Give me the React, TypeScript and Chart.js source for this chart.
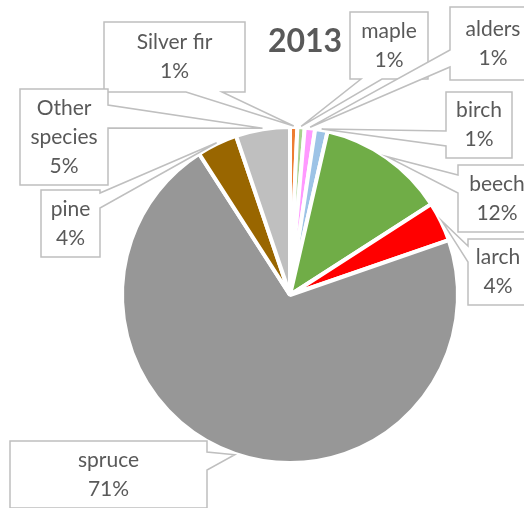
import React, { useEffect, useRef } from "react";
import { Chart, registerables } from "chart.js";

Chart.register(...registerables);

const TITLE = "2013";
const SPECIES = ["Silver fir", "maple", "alders", "birch", "beech", "larch", "spruce", "pine", "Other species"];
const LABEL_LINES = [["Silver fir"], ["maple"], ["alders"], ["birch"], ["beech"], ["larch"], ["spruce"], ["pine"], ["Other", "species"]];
const SHARES = [0.7, 0.7, 1.0, 1.2, 12.3, 3.8, 71.2, 3.9, 5.2];
const COLORS = ["#ED7D31", "#A9D18E", "#FF99FF", "#9DC3E6", "#70AD47", "#FF0000", "#979797", "#996600", "#BFBFBF"];

// callout box layout (annotation positions only)
type Box = { x: number; y: number; w: number; h: number; side: string; b1: number; b2: number };
const CALLOUTS: Box[] = [
  { x: 104, y: 22, w: 141, h: 70, side: "bottom", b1: 186, b2: 222 },
  { x: 350, y: 12, w: 78, h: 67, side: "bottom", b1: 361, b2: 382 },
  { x: 450, y: 7, w: 86, h: 73, side: "left", b1: 50, b2: 67 },
  { x: 446, y: 92, w: 66, h: 66, side: "left", b1: 131, b2: 146 },
  { x: 458, y: 165, w: 78, h: 67, side: "left", b1: 175, b2: 193 },
  { x: 468, y: 239, w: 60, h: 66, side: "left", b1: 246, b2: 262 },
  { x: 10, y: 441, w: 197, h: 67, side: "right", b1: 452, b2: 470 },
  { x: 41, y: 190, w: 59, h: 67, side: "right", b1: 193, b2: 208 },
  { x: 20, y: 89, w: 88, h: 96, side: "right", b1: 105, b2: 128 },
];

const TEXT_COLOR = "#595959";
const FONT = "Lato, 'Open Sans', sans-serif";

function calloutPath(ctx: CanvasRenderingContext2D, b: Box, tx: number, ty: number) {
  const { x, y, w, h, side, b1, b2 } = b;
  const r = x + w;
  const bt = y + h;
  ctx.beginPath();
  ctx.moveTo(x, y);
  if (side === "top") { ctx.lineTo(b1, y); ctx.lineTo(tx, ty); ctx.lineTo(b2, y); }
  ctx.lineTo(r, y);
  if (side === "right") { ctx.lineTo(r, b1); ctx.lineTo(tx, ty); ctx.lineTo(r, b2); }
  ctx.lineTo(r, bt);
  if (side === "bottom") { ctx.lineTo(b2, bt); ctx.lineTo(tx, ty); ctx.lineTo(b1, bt); }
  ctx.lineTo(x, bt);
  if (side === "left") { ctx.lineTo(x, b2); ctx.lineTo(tx, ty); ctx.lineTo(x, b1); }
  ctx.closePath();
}

const calloutPlugin = {
  id: "callouts",
  afterDraw(chart: any) {
    const ctx: CanvasRenderingContext2D = chart.ctx;
    const meta = chart.getDatasetMeta(0);
    ctx.save();
    meta.data.forEach((arc: any, i: number) => {
      const p = arc.getProps(["x", "y", "startAngle", "endAngle", "outerRadius"], true);
      const mid = (p.startAngle + p.endAngle) / 2;
      const tx = p.x + Math.cos(mid) * (p.outerRadius + 1);
      const ty = p.y + Math.sin(mid) * (p.outerRadius + 1);
      const b = CALLOUTS[i];
      calloutPath(ctx, b, tx, ty);
      ctx.fillStyle = "#FFFFFF";
      ctx.fill();
      ctx.strokeStyle = "#BFBFBF";
      ctx.lineWidth = 1.5;
      ctx.lineJoin = "miter";
      ctx.stroke();
      const lines = [...LABEL_LINES[i], Math.round(SHARES[i]) + "%"];
      ctx.fillStyle = TEXT_COLOR;
      ctx.font = "21px " + FONT;
      ctx.textAlign = "center";
      ctx.textBaseline = "middle";
      const lh = 29;
      const cy = b.y + b.h / 2;
      const cx = b.x + b.w / 2;
      lines.forEach((t, k) => {
        ctx.fillText(t, cx, cy + (k - (lines.length - 1) / 2) * lh);
      });
    });
    ctx.font = "bold 32px " + FONT;
    ctx.fillStyle = TEXT_COLOR;
    ctx.textAlign = "center";
    ctx.textBaseline = "alphabetic";
    ctx.fillText(TITLE, 305, 52);
    ctx.restore();
  },
};

export default function App() {
  const ref = useRef<HTMLCanvasElement | null>(null);
  useEffect(() => {
    if (!ref.current) return;
    const chart = new Chart(ref.current, {
      type: "pie",
      data: {
        labels: SPECIES,
        datasets: [
          {
            data: SHARES,
            backgroundColor: COLORS,
            borderColor: "#FFFFFF",
            borderWidth: 4,
            hoverOffset: 0,
            offset: 0,
          },
        ],
      },
      options: {
        responsive: false,
        animation: false,
        events: [],
        layout: { padding: { left: 120, right: 64, top: 125, bottom: 43 } },
        plugins: {
          legend: { display: false },
          tooltip: { enabled: false },
          title: { display: false },
        },
      },
      plugins: [calloutPlugin],
    });
    return () => chart.destroy();
  }, []);
  return (
    <div style={{ position: "absolute", left: 0, top: 0, width: 524, height: 508, background: "#fff", overflow: "hidden" }}>
      <canvas ref={ref} width={524} height={508} style={{ width: 524, height: 508 }} />
    </div>
  );
}
